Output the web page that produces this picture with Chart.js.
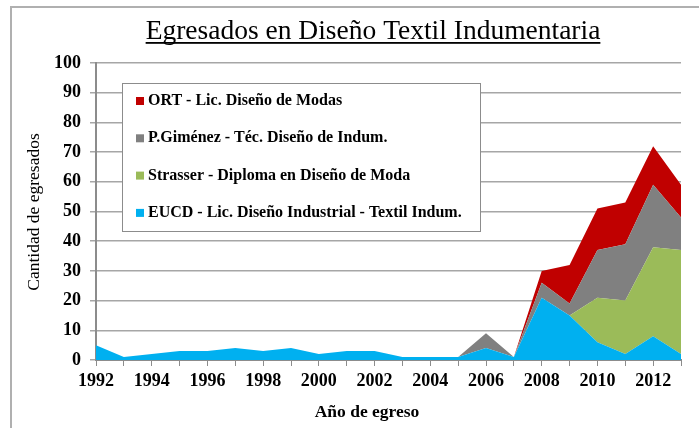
<!DOCTYPE html>
<html>
<head>
<meta charset="utf-8">
<script src="https://cdn.jsdelivr.net/npm/chart.js@4.4.1/dist/chart.umd.min.js"></script>
<style>
  html, body { margin: 0; padding: 0; background: #fff; }
  #wrap { position: relative; width: 699px; height: 428px; }
</style>
</head>
<body>
<div id="wrap"><canvas id="chart" width="699" height="428"></canvas></div>
<script>
// Datos
const anios = ['1992','1993','1994','1995','1996','1997','1998','1999','2000','2001','2002',
               '2003','2004','2005','2006','2007','2008','2009','2010','2011','2012','2013'];
const eucd      = [5, 1, 2, 3, 3, 4, 3, 4, 2, 3, 3, 1, 1, 1, 4, 1, 21, 15, 6, 2, 8, 2];
const strasser  = [0, 0, 0, 0, 0, 0, 0, 0, 0, 0, 0, 0, 0, 0, 0, 0, 0, 0, 15, 18, 30, 35];
const gimenez   = [0, 0, 0, 0, 0, 0, 0, 0, 0, 0, 0, 0, 0, 0, 5, 0, 5, 4, 16, 19, 21, 11];
const ort       = [0, 0, 0, 0, 0, 0, 0, 0, 0, 0, 0, 0, 0, 0, 0, 0, 4, 13, 14, 14, 13, 11];
const yTicks    = [0, 10, 20, 30, 40, 50, 60, 70, 80, 90, 100];

const titulo = 'Egresados en Diseño Textil Indumentaria';
const tituloX = 'Año de egreso';
const tituloY = 'Cantidad de egresados';
const serif = "'Liberation Serif', 'Times New Roman', serif";

const ctx = document.getElementById('chart').getContext('2d');

// Marco, títulos y leyenda dentro del área
const decoracion = {
    id: 'decoracion',
    beforeDraw(chart) {
        const c = chart.ctx;
        c.save();
        c.strokeStyle = '#b0b0b0';
        c.lineWidth = 2;
        c.beginPath();
        c.moveTo(11, 430);
        c.lineTo(11, 7);
        c.lineTo(700, 7);
        c.stroke();
        c.restore();
    },
    afterDraw(chart) {
        const c = chart.ctx;
        c.save();
        // título principal subrayado
        c.font = "27.5px " + serif;
        c.fillStyle = '#000';
        c.textAlign = 'center';
        c.textBaseline = 'alphabetic';
        const tx = 373, ty = 39;
        c.fillText(titulo, tx, ty);
        const w = c.measureText(titulo).width;
        c.fillRect(tx - w / 2, ty + 3, w, 1.8);

        // títulos de ejes
        c.font = "bold 17.5px " + serif;
        c.textBaseline = 'middle';
        c.fillText(tituloX, 367, 412);
        c.font = "17.5px " + serif;
        c.save();
        c.translate(34, 212);
        c.rotate(-Math.PI / 2);
        c.fillText(tituloY, 0, 0);
        c.restore();

        // leyenda
        const bx = 122, by = 83, bw = 358, bh = 148;
        c.fillStyle = '#fff';
        c.fillRect(bx, by, bw, bh);
        c.strokeStyle = '#8c8c8c';
        c.lineWidth = 1;
        c.strokeRect(bx + 0.5, by + 0.5, bw, bh);
        c.font = "bold 16px " + serif;
        c.textAlign = 'left';
        c.textBaseline = 'middle';
        const items = chart.data.datasets.slice().reverse();
        items.forEach((ds, i) => {
            const y = 101 + i * 37.3;
            c.fillStyle = ds.backgroundColor;
            c.fillRect(136, y - 4, 8, 8);
            c.fillStyle = '#000';
            c.fillText(ds.label, 148, y);
        });
        c.restore();
    }
};

new Chart(ctx, {
    type: 'line',
    data: {
        labels: anios,
        datasets: [
            { label: 'EUCD - Lic. Diseño Industrial - Textil Indum.', data: eucd,
              backgroundColor: '#00B0F0', borderColor: '#00B0F0', fill: 'origin' },
            { label: 'Strasser - Diploma en Diseño de Moda', data: strasser,
              backgroundColor: '#9BBB59', borderColor: '#9BBB59', fill: '-1' },
            { label: 'P.Giménez - Téc. Diseño de Indum.', data: gimenez,
              backgroundColor: '#808080', borderColor: '#808080', fill: '-1' },
            { label: 'ORT - Lic. Diseño de Modas', data: ort,
              backgroundColor: '#C00000', borderColor: '#C00000', fill: '-1' }
        ]
    },
    options: {
        responsive: false,
        animation: false,
        layout: { padding: { left: 0, top: 63, right: 18, bottom: 0 } },
        elements: {
            point: { radius: 0, hoverRadius: 0 },
            line: { borderWidth: 0, tension: 0 }
        },
        plugins: {
            legend: { display: false },
            tooltip: { enabled: false }
        },
        scales: {
            x: {
                offset: false,
                afterFit(scale) { scale.height = 68; },
                grid: { drawOnChartArea: false, drawTicks: true, tickLength: 6, color: '#8c8c8c', lineWidth: 1 },
                border: { color: '#8c8c8c', width: 2 },
                ticks: {
                    autoSkip: false, maxRotation: 0, padding: 5, color: '#000',
                    font: { family: serif, size: 18, weight: 'bold' },
                    callback(v, i) { return i % 2 === 0 ? anios[i] : ''; }
                }
            },
            y: {
                stacked: true,
                min: 0, max: 100,
                afterFit(scale) { scale.width = 96; },
                afterBuildTicks(scale) { scale.ticks = yTicks.map(v => ({ value: v })); },
                grid: { color: '#a6a6a6', lineWidth: 1.5, tickLength: 6 },
                border: { color: '#8c8c8c', width: 2 },
                ticks: {
                    padding: 9, color: '#000',
                    font: { family: serif, size: 18, weight: 'bold' }
                }
            }
        }
    },
    plugins: [decoracion]
});
</script>
</body>
</html>
